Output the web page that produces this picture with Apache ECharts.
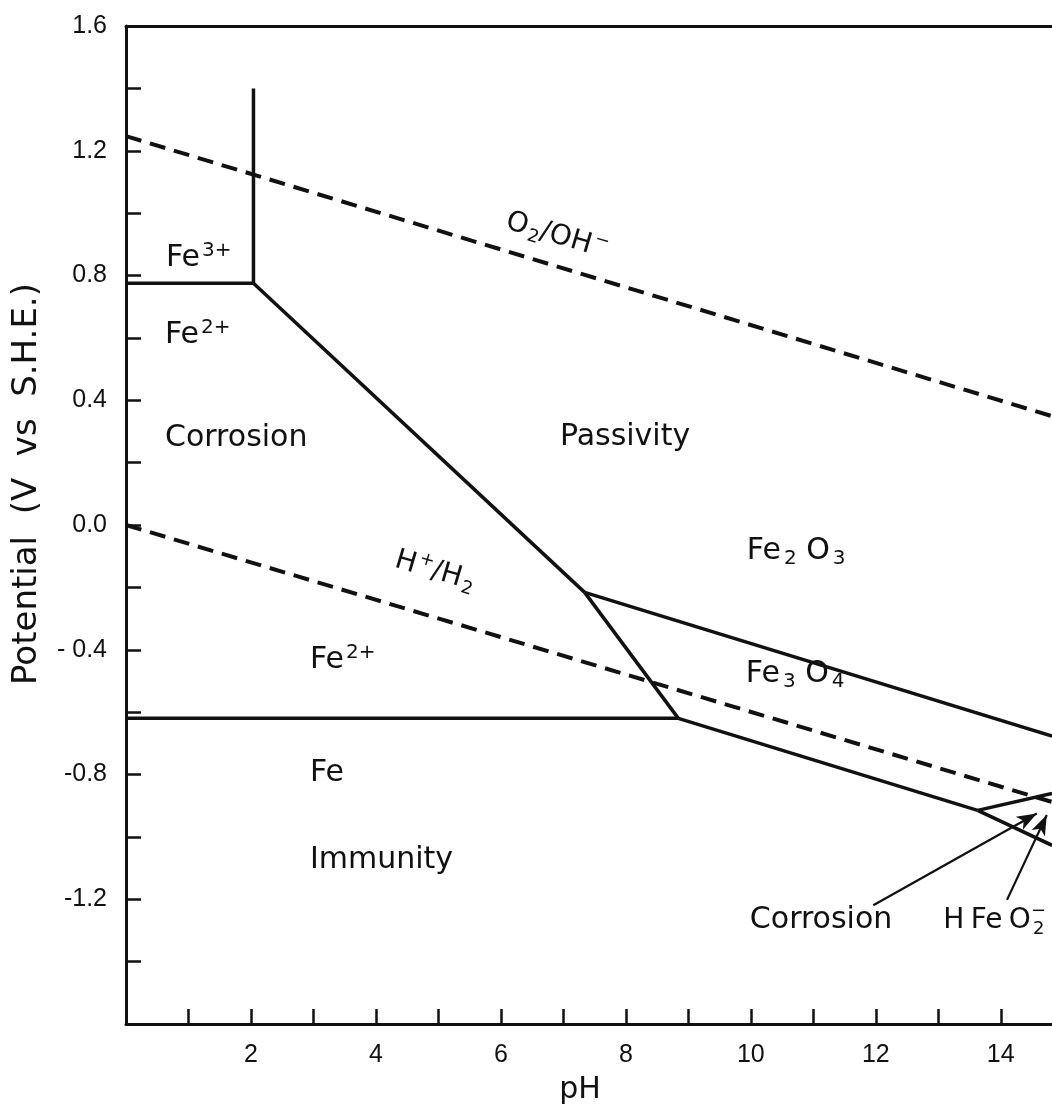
<!DOCTYPE html>
<html><head><meta charset="utf-8">
<script src="https://cdn.jsdelivr.net/npm/echarts@6/dist/echarts.min.js"></script>
<style>html,body{margin:0;padding:0;background:#fff}#c{width:1052px;height:1110px}</style>
</head><body><div id="c"></div>
<script>
// axis ranges and ticks
const xMin = 0, xMax = 14.82, yMin = -1.6, yMax = 1.6;
const xTickValues = [1,2,3,4,5,6,7,8,9,10,11,12,13,14];
const xLabelValues = [2,4,6,8,10,12,14];
const yTickValues = [-1.4,-1.2,-1.0,-0.8,-0.6,-0.4,-0.2,0.0,0.2,0.4,0.6,0.8,1.0,1.2,1.4];
const yLabelValues = [1.6,1.2,0.8,0.4,0.0,-0.4,-0.8,-1.2];
const yLabelTexts = ['1.6','1.2','0.8','0.4','0.0','- 0.4','-0.8','-1.2'];

// water stability lines (dashed)
const lineO2 = [[0,1.247],[14.82,0.349]];
const lineH2 = [[0,0.0],[14.82,-0.888]];
// phase boundaries (solid)
const fe3Fe2 = [[0,0.775],[2.04,0.775]];
const fe3Vertical = [[2.04,0.775],[2.04,1.40]];
const fe2Fe2O3 = [[2.04,0.775],[7.34,-0.216]];
const fe2Fe3O4 = [[7.34,-0.216],[8.84,-0.62]];
const fe3O4Fe2O3 = [[7.34,-0.216],[14.82,-0.677]];
const feFe2 = [[0,-0.62],[8.84,-0.62]];
const feFe3O4 = [[8.84,-0.62],[13.63,-0.915]];
const feHFeO2 = [[13.63,-0.915],[14.82,-1.027]];
const fe3O4HFeO2 = [[13.63,-0.915],[14.82,-0.861]];
// pointer arrows (start, tip)
const arrowCorrosion = [[11.96,-1.219],[14.576,-0.925]];
const arrowHFeO2 = [[14.10,-1.202],[14.736,-0.930]];

// region labels (left anchor in pH / V)
const labelTexts = [
  '{b|Fe}{sup|3+}',
  '{b|Fe}{sup|2+}',
  '{b|Corrosion}',
  '{b|Passivity}',
  '{b|Fe}{sub|2}{b| O}{sub|3}',
  '{b|Fe}{sub|3}{b| O}{sub|4}',
  '{b|Fe}{sup|2+}',
  '{b|Fe}',
  '{b|Immunity}',
  '{b|Corrosion}',
  '{m|H}{sp| }{m|Fe}{sp| }{m|O}{msub|2}'
];
const labelPH = [0.64, 0.624, 0.624, 6.944, 9.936, 9.92, 2.944, 2.944, 2.944, 9.984, 13.08];
const labelE  = [0.854, 0.607, 0.278, 0.283, -0.084, -0.477, -0.435, -0.797, -1.075, -1.267, -1.270];
// centred labels: water lines and the charge of HFeO2
const centredTexts = ['{m|O}{msub|2}{m|/OH}{msup|−}', '{m|H}{msup|+}{m|/H}{msub|2}', '{msup|−}'];
const centredPH = [6.896, 4.944, 14.59];
const centredE = [0.927, -0.148, -1.238];
const centredRotate = [-16.5, -16.5, 0];

const INK = '#111';
const rich = {
  b: {fontFamily: 'DejaVu Sans', fontSize: 30, color: INK, padding: [3,0,3,0], verticalAlign: 'middle'},
  sub: {fontFamily: 'DejaVu Sans', fontSize: 20, color: INK, verticalAlign: 'bottom', padding: [0,0,0,3]},
  sup: {fontFamily: 'DejaVu Sans', fontSize: 20, color: INK, verticalAlign: 'top', padding: [0,0,0,2]},
  m: {fontFamily: 'DejaVu Sans', fontSize: 28, color: INK, padding: [3,0,3,0], verticalAlign: 'middle'},
  sp: {fontFamily: 'DejaVu Sans', fontSize: 20, color: INK, verticalAlign: 'middle'},
  msub: {fontFamily: 'DejaVu Sans', fontSize: 18, color: INK, verticalAlign: 'bottom', padding: [0,0,0,2]},
  msup: {fontFamily: 'DejaVu Sans', fontSize: 18, color: INK, verticalAlign: 'top', padding: [0,0,0,2]}
};

function boundary(data, dashed) {
  return {
    type: 'line', data: data, symbol: 'none', silent: true, z: 3,
    lineStyle: {color: INK, width: dashed ? 4 : 3.5, type: dashed ? [16, 9] : 'solid', cap: 'butt'},
    emphasis: {disabled: true}
  };
}

const labelBase = {show: true, color: INK, opacity: 1, textBorderWidth: 0, textShadowBlur: 0, rich: rich};
const regionData = labelTexts.map((t, i) => ({
  value: [labelPH[i], labelE[i]],
  label: Object.assign({}, labelBase, {formatter: t, align: 'left'})
}));
const centredData = centredTexts.map((t, i) => ({
  value: [centredPH[i], centredE[i]],
  label: Object.assign({}, labelBase, {formatter: t, align: 'center', rotate: centredRotate[i]})
}));

const chart = echarts.init(document.getElementById('c'), null, {renderer: 'canvas'});
chart.setOption({
  backgroundColor: '#fff',
  animation: false,
  grid: {left: 126, right: 0, top: 26, bottom: 84, containLabel: false},
  xAxis: [{
    type: 'value', min: xMin, max: xMax, position: 'bottom',
    name: 'pH', nameLocation: 'middle', nameGap: 51,
    nameTextStyle: {fontFamily: 'DejaVu Sans', fontSize: 30, color: INK, padding: [0,18,0,0]},
    axisLine: {show: true, onZero: false, lineStyle: {color: INK, width: 3}},
    axisTick: {show: true, inside: true, length: 15, lineStyle: {color: INK, width: 2.5}, customValues: xTickValues},
    axisLabel: {show: true, margin: 19, fontFamily: 'Liberation Sans', fontSize: 25, color: INK, customValues: xLabelValues,
      formatter: v => String(v)},
    splitLine: {show: false}
  }, {
    type: 'value', min: xMin, max: xMax, position: 'top',
    axisLine: {show: true, onZero: false, lineStyle: {color: INK, width: 3}},
    axisTick: {show: false}, axisLabel: {show: false}, splitLine: {show: false}
  }],
  yAxis: {
    type: 'value', min: yMin, max: yMax,
    name: 'Potential  (V  vs  S.H.E.)', nameLocation: 'middle', nameGap: 82,
    nameTextStyle: {fontFamily: 'DejaVu Sans', fontSize: 34, color: INK, padding: [0,0,0,82]},
    axisLine: {show: true, onZero: false, lineStyle: {color: INK, width: 3}},
    axisTick: {show: true, inside: true, length: 15, lineStyle: {color: INK, width: 2.5}, customValues: yTickValues},
    axisLabel: {show: true, margin: 19, fontFamily: 'Liberation Sans', fontSize: 25, color: INK, customValues: yLabelValues,
      formatter: v => {
        const i = yLabelValues.findIndex(x => Math.abs(x - v) < 1e-6);
        return i >= 0 ? yLabelTexts[i] : '';
      }},
    splitLine: {show: false}
  },
  series: [
    boundary(lineO2, true),
    boundary(lineH2, true),
    boundary(fe3Fe2, false),
    boundary(fe3Vertical, false),
    boundary(fe2Fe2O3, false),
    boundary(fe2Fe3O4, false),
    boundary(fe3O4Fe2O3, false),
    boundary(feFe2, false),
    boundary(feFe3O4, false),
    boundary(feHFeO2, false),
    Object.assign(boundary(fe3O4HFeO2, false), {
      markLine: {
        silent: true, animation: false,
        symbol: ['none', 'arrow'], symbolSize: [11, 20],
        label: {show: false},
        lineStyle: {color: INK, width: 2.2, type: 'solid'},
        itemStyle: {color: INK},
        emphasis: {disabled: true},
        data: [
          [{coord: arrowCorrosion[0]}, {coord: arrowCorrosion[1]}],
          [{coord: arrowHFeO2[0]}, {coord: arrowHFeO2[1]}]
        ]
      }
    }),
    {
      type: 'scatter', silent: true, symbolSize: 0, itemStyle: {color: INK, opacity: 1}, z: 5,
      label: {show: true, position: 'inside', verticalAlign: 'middle', color: INK, rich: rich},
      emphasis: {disabled: true},
      labelLayout: {hideOverlap: false},
      data: regionData.concat(centredData)
    }
  ]
});
</script></body></html>
